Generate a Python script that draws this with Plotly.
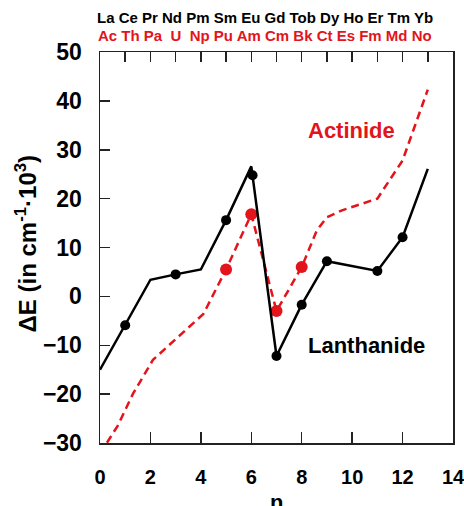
import plotly.graph_objects as go

# ---- data ----
lan_line_n = [0, 1, 2, 3, 4, 5, 6, 7, 8, 9, 11, 12, 13]
lan_line_e = [-15.0, -5.9, 3.4, 4.5, 5.5, 15.6, 26.6, -12.2, -1.7, 7.2, 5.2, 12.1, 26.1]
lan_pts_n = [1, 3, 5, 6.05, 7, 8, 9, 11, 12]
lan_pts_e = [-5.9, 4.5, 15.6, 24.8, -12.2, -1.7, 7.2, 5.2, 12.1]

act_line_n = [0, 0.7, 1.3, 2.1, 2.8, 3.3, 4.1, 5, 6, 7, 8, 8.6, 9, 9.6, 11, 12, 13]
act_line_e = [-32.2, -26.5, -20.0, -13.0, -9.7, -7.3, -3.6, 5.5, 16.8, -3.0, 6.0,
              13.5, 16.2, 17.6, 20.0, 27.8, 42.3]
act_pts_n = [5, 6, 7, 8]
act_pts_e = [5.5, 16.8, -3.0, 6.0]

lanthanides = "La Ce Pr Nd Pm Sm Eu Gd Tob Dy Ho Er Tm Yb"
actinides = "Ac Th Pa\u00a0\u00a0U\u00a0\u00a0Np Pu Am Cm Bk Ct Es Fm Md No"

x_ticks = [0, 2, 4, 6, 8, 10, 12, 14]
y_ticks = [-30, -20, -10, 0, 10, 20, 30, 40, 50]

RED = "#e3141b"
FONT = "Liberation Sans, Arial, sans-serif"

fig = go.Figure()
fig.add_trace(go.Scatter(x=act_line_n, y=act_line_e, mode="lines",
                         line=dict(color=RED, width=2.5, dash="8px,5px"),
                         hoverinfo="skip", showlegend=False))
fig.add_trace(go.Scatter(x=act_pts_n, y=act_pts_e, mode="markers",
                         marker=dict(color=RED, size=12), showlegend=False))
fig.add_trace(go.Scatter(x=lan_line_n, y=lan_line_e, mode="lines",
                         line=dict(color="black", width=2.5),
                         hoverinfo="skip", showlegend=False))
fig.add_trace(go.Scatter(x=lan_pts_n, y=lan_pts_e, mode="markers",
                         marker=dict(color="black", size=10), showlegend=False))
# helper trace for the top tick axis
fig.add_trace(go.Scatter(x=[], y=[], xaxis="x2", yaxis="y", showlegend=False))

axis_line = dict(showline=True, linecolor="#222", linewidth=1.5, mirror=True,
                 showgrid=False, zeroline=False, automargin=False)

fig.update_layout(
    width=464, height=506,
    margin=dict(l=100, r=10.5, t=52, b=63.3, autoexpand=False),
    paper_bgcolor="white", plot_bgcolor="white",
    font=dict(family=FONT, color="black"),
    xaxis=dict(range=[0, 14], tickvals=x_ticks, ticks="inside", ticklen=11,
               tickwidth=1.5, tickcolor="#222",
               tickfont=dict(size=20, weight="bold"), ticklabelstandoff=15,
               ticklabeloverflow="allow", **axis_line),
    xaxis2=dict(range=[0, 14], overlaying="x", side="top", anchor="y",
                dtick=1, tick0=0, ticks="inside", ticklen=10, tickwidth=1.5,
                tickcolor="#222", showticklabels=False, showline=False,
                showgrid=False, zeroline=False),
    yaxis=dict(range=[-30, 50], tickvals=y_ticks, ticks="inside", ticklen=10,
               tickwidth=1.5, tickcolor="#222",
               tickfont=dict(size=23, weight="bold"), ticklabelstandoff=12,
               **axis_line),
)

ann = []
ann.append(dict(text=lanthanides, xref="paper", yref="paper", x=0.467, y=1.087,
                xanchor="center", yanchor="middle", showarrow=False,
                font=dict(size=15, color="black", weight="bold")))
ann.append(dict(text=actinides, xref="paper", yref="paper", x=0.467, y=1.043,
                xanchor="center", yanchor="middle", showarrow=False,
                font=dict(size=15, color=RED, weight="bold")))
ann.append(dict(text="Actinide", x=9.97, y=34.0, xref="x", yref="y",
                showarrow=False, font=dict(size=22, color=RED, weight="bold")))
ann.append(dict(text="Lanthanide", x=10.56, y=-10.0, xref="x", yref="y",
                showarrow=False, font=dict(size=22, color="black", weight="bold")))
ann.append(dict(text="ΔE (in cm<sup>-1</sup>·10<sup>3</sup>)", xref="paper", yref="paper",
                x=-0.21, y=0.51, textangle=-90, xanchor="center", yanchor="middle",
                showarrow=False, font=dict(size=24, color="black", weight="bold")))
ann.append(dict(text="n", xref="paper", yref="paper", x=0.5, y=-0.151,
                xanchor="center", yanchor="middle", showarrow=False,
                font=dict(size=22, color="black", weight="bold")))
fig.update_layout(annotations=ann)

# remove the browser's default body margin so the figure fills the window
fig.write_html("out.html",
               config={"displayModeBar": False, "staticPlot": True},
               post_script="document.body.style.margin='0';"
                           "document.body.style.overflow='hidden';")
